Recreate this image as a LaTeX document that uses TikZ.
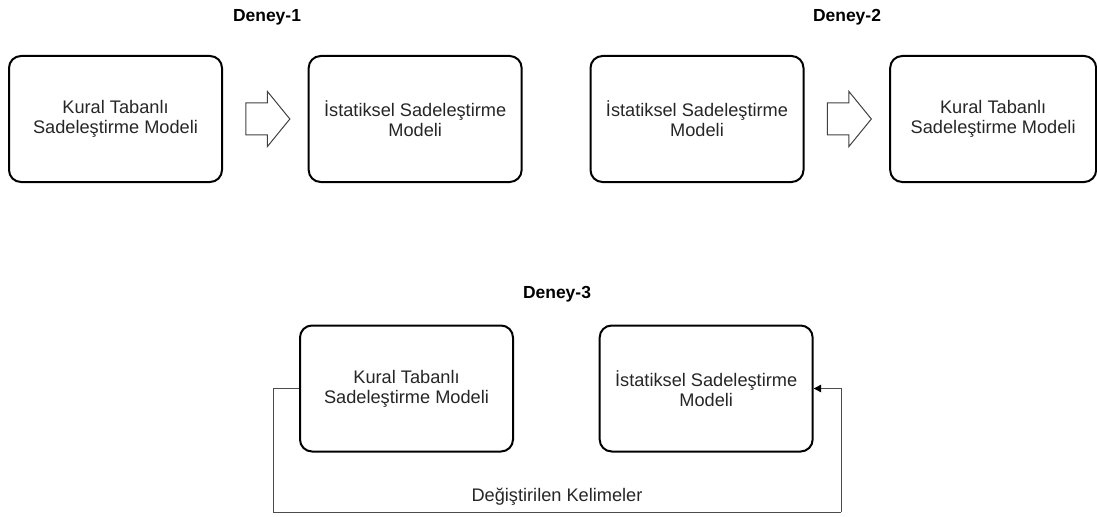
\documentclass[tikz,border=0pt]{standalone}
\usepackage{fontspec}
\setmainfont{Liberation Sans}
\usepackage{tikz}
\usetikzlibrary{arrows.meta}
\usetikzlibrary{positioning}
\usetikzlibrary{shapes.arrows}

\begin{document}
\begin{tikzpicture}[x=0.75pt,y=-0.75pt,node distance=63.5pt,
	model/.style={draw,line width=1.5pt,rounded corners=9pt,align=center,
		minimum width=159.75pt,minimum height=94.5pt,text=black!85,
		font=\fontsize{13.65pt}{15pt}\selectfont},
	blok/.style={single arrow,draw=black!75,line width=0.75pt,inner sep=0pt,
		text height=23.25pt,text depth=0pt,minimum height=33pt,xshift=-3pt,
		single arrow head extend=8.6pt,single arrow tip angle=101.6},
	baslik/.style={font=\fontsize{13.1pt}{15pt}\selectfont\bfseries},
	geri/.style={draw=black!70,line width=0.75pt}]
	\useasboundingbox (0,0) rectangle (1097,517);
	% Deney-1
	\node[baslik] (d1) at (267,17) {Deney-1};
	\node[model] (k1) at (115.5,119) {Kural Tabanlı\\Sadeleştirme Modeli};
	\node[model] (i1) [right=of k1] {İstatiksel Sadeleştirme\\Modeli};
	\path (k1) -- node[blok] (o1) {} (i1);
	% Deney-2
	\node[baslik] (d2) at (847,17) {Deney-2};
	\node[model] (i2) at (697,119) {İstatiksel Sadeleştirme\\Modeli};
	\node[model,minimum width=154.5pt] (k2) [right=of i2] {Kural Tabanlı\\Sadeleştirme Modeli};
	\path (i2) -- node[blok] (o2) {} (k2);
	% Deney-3
	\node[baslik] (d3) at (557,294) {Deney-3};
	\node[model] (k3) at (406.5,388.5) {Kural Tabanlı\\Sadeleştirme Modeli};
	\node[model] (i3) [right=of k3] {İstatiksel Sadeleştirme\\Modeli};
	\coordinate (sol) at (273,512);
	\coordinate (sag) at (841,512);
	\draw[geri] (k3.west) -| (sol) -- node[above=1pt,text=black!85,
		font=\fontsize{13.65pt}{15pt}\selectfont] (kel) {Değiştirilen Kelimeler} (sag);
	\draw[geri,-{Triangle[length=5.5pt,width=5.5pt,color=black]}] (sag) |- (i3.east);
\end{tikzpicture}
\end{document}
